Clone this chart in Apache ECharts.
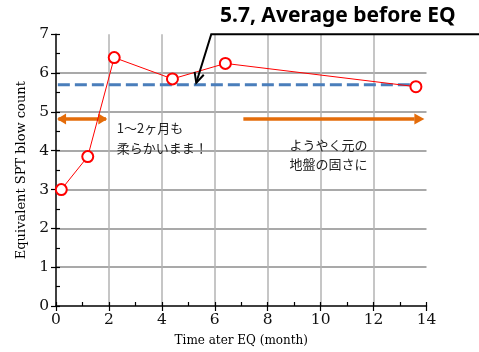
<!DOCTYPE html>
<html><head><meta charset="utf-8">
<script src="https://cdn.jsdelivr.net/npm/echarts@6/dist/echarts.min.js"></script>
<style>html,body{margin:0;padding:0;background:#fff}#c{width:479px;height:352px}</style>
</head><body><div id="c"></div>
<script>
var months = [0.2, 1.2, 2.2, 4.4, 6.4, 13.6];
var blowCounts = [3.0, 3.85, 6.4, 5.85, 6.25, 5.65];
var averageBefore = 5.7;
var averageSpan = [0.07, 13.75];
var softPeriod = [0.09, 1.89];
var recoveredPeriod = [7.08, 13.85];
var arrowLevel = 4.82;
var xTicks = [0, 2, 4, 6, 8, 10, 12, 14];
var yTicks = [0, 1, 2, 3, 4, 5, 6, 7];
var calloutTip = [5.3, 5.75];
var calloutText = '5.7, Average before EQ';
var noteSoft = ['1〜2ヶ月も', '柔らかいまま！'];
var noteRecovered = ['ようやく元の', '地盤の固さに'];
var noteSoftPos = [2.3, 4.85];
var noteRecoveredPos = [10.3, 4.4];

var serif = 'DejaVu Serif';
var chart = echarts.init(document.getElementById('c'), null, {renderer: 'canvas'});
var orange = '#e46c0a';
var grid = {left: 56, right: 52.5, top: 34.3, bottom: 45.3};
var option = {
  animation: false,
  grid: grid,
  xAxis: [{
    type: 'value', min: xTicks[0], max: xTicks[xTicks.length - 1], interval: 2,
    axisLine: {lineStyle: {color: '#000', width: 1.5}},
    axisTick: {show: true, length: 5, lineStyle: {color: '#000', width: 1.2}},
    axisLabel: {color: '#111', fontFamily: serif, fontSize: 15.5, margin: 6},
    splitLine: {show: true, showMinLine: false, showMaxLine: false, lineStyle: {color: '#b3b3b3', width: 1.5}},
    name: 'Time ater EQ (month)', nameLocation: 'middle', nameGap: 29,
    nameTextStyle: {color: '#000', fontFamily: serif, fontSize: 12}
  }, {
    type: 'value', min: xTicks[0], max: xTicks[xTicks.length - 1], interval: 1, position: 'bottom',
    axisLine: {show: false},
    axisTick: {show: true, inside: true, length: 4, lineStyle: {color: '#000', width: 1.2}},
    axisLabel: {show: false}, splitLine: {show: false}
  }],
  yAxis: [{
    type: 'value', min: yTicks[0], max: yTicks[yTicks.length - 1], interval: 1,
    axisLine: {show: true, lineStyle: {color: '#000', width: 1.5}},
    axisTick: {show: true, length: 5, lineStyle: {color: '#000', width: 1.2}},
    axisLabel: {color: '#111', fontFamily: serif, fontSize: 15.5, margin: 7},
    splitLine: {show: true, showMinLine: false, showMaxLine: false, lineStyle: {color: '#8c8c8c', width: 1.5}},
    name: 'Equivalent SPT blow count', nameLocation: 'middle', nameGap: 28,
    nameTextStyle: {color: '#000', fontFamily: serif, fontSize: 13}
  }, {
    type: 'value', min: yTicks[0], max: yTicks[yTicks.length - 1], interval: 0.5, position: 'left',
    axisLine: {show: false},
    axisTick: {show: true, inside: true, length: 4, lineStyle: {color: '#000', width: 1.2}},
    axisLabel: {show: false}, splitLine: {show: false}
  }],
  series: [{
    type: 'line', name: 'avg',
    data: [[averageSpan[0], averageBefore], [averageSpan[1], averageBefore]],
    symbol: 'none', z: 2,
    lineStyle: {color: '#4a7ebb', width: 3, type: [12, 5]}
  }, {
    type: 'line', name: 'soft', data: [[softPeriod[0], arrowLevel], [softPeriod[1], arrowLevel]],
    symbol: 'none', lineStyle: {color: orange, width: 3.5}, z: 2,
    markPoint: {
      symbol: 'triangle', symbolSize: [11, 9], silent: true, label: {show: false},
      itemStyle: {color: orange},
      data: [{coord: [softPeriod[0] + 0.12, arrowLevel], symbolRotate: 90}, {coord: [softPeriod[1] - 0.12, arrowLevel], symbolRotate: -90}]
    }
  }, {
    type: 'line', name: 'recovered', data: [[recoveredPeriod[0], arrowLevel], [recoveredPeriod[1] - 0.3, arrowLevel]],
    symbol: 'none', lineStyle: {color: orange, width: 3.5}, z: 2,
    markPoint: {
      symbol: 'triangle', symbolSize: [11, 10], silent: true, label: {show: false},
      itemStyle: {color: orange},
      data: [{coord: [recoveredPeriod[1] - 0.12, arrowLevel], symbolRotate: -90}]
    }
  }, {
    type: 'line', name: 'SPT',
    data: months.map(function (m, i) { return [m, blowCounts[i]]; }),
    symbol: 'circle', symbolSize: 11, showSymbol: true, z: 5,
    lineStyle: {color: '#ff0000', width: 1},
    itemStyle: {color: '#fff', borderColor: '#ff0000', borderWidth: 2}
  }]
};
chart.setOption(option);

var tip = chart.convertToPixel({xAxisIndex: 0, yAxisIndex: 0}, calloutTip);
var softPx = chart.convertToPixel({xAxisIndex: 0, yAxisIndex: 0}, noteSoftPos);
var recPx = chart.convertToPixel({xAxisIndex: 0, yAxisIndex: 0}, noteRecoveredPos);
var topY = grid.top;
var elbowX = tip[0] + 15;
var ang = Math.atan2(tip[1] - topY, tip[0] - elbowX);
var ah = 11, spread = 0.45;
var a1 = [tip[0] - ah * Math.cos(ang - spread), tip[1] - ah * Math.sin(ang - spread)];
var a2 = [tip[0] - ah * Math.cos(ang + spread), tip[1] - ah * Math.sin(ang + spread)];
var jp = 'Noto Sans CJK JP';
chart.setOption({
  graphic: [
    {type: 'polyline', shape: {points: [[479, topY], [elbowX, topY], tip]}, style: {stroke: '#000', lineWidth: 2, fill: null}, z: 10},
    {type: 'polyline', shape: {points: [a1, tip, a2]}, style: {stroke: '#000', lineWidth: 2, fill: null}, z: 10},
    {type: 'text', x: 220, y: 6, style: {text: calloutText, font: 'bold 21px "Noto Sans"', fill: '#000'}, z: 10},
    {type: 'text', x: softPx[0], y: softPx[1], style: {text: noteSoft.join('\n'), font: '13px "' + jp + '"', lineHeight: 20, fill: '#222', textVerticalAlign: 'top'}, z: 10},
    {type: 'text', x: recPx[0], y: recPx[1], style: {text: noteRecovered.join('\n'), font: '13px "' + jp + '"', lineHeight: 19, fill: '#222', align: 'center', textVerticalAlign: 'top'}, z: 10}
  ]
});
</script></body></html>
